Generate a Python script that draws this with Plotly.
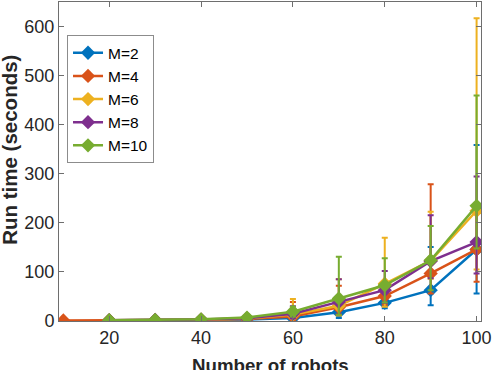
import plotly.graph_objects as go

robots = [20, 30, 40, 50, 60, 70, 80, 90, 100]
robots_m4 = [10, 20, 30, 40, 50, 60, 70, 80, 90, 100]

labels = ["M=2", "M=4", "M=6", "M=8", "M=10"]
colors = ["#0072BD", "#D95319", "#EDB120", "#7E2F8E", "#77AC30"]

m2_mean = [0.3, 0.5, 1.0, 2.0, 5, 17, 36, 62, 145]
m2_up = [0.2, 0.3, 0.5, 1.0, 3, 8, 10, 88, 213]
m2_dn = [0.2, 0.3, 0.5, 1.0, 3, 12, 11, 31, 90]

m4_mean = [0.1, 0.4, 0.7, 1.3, 3.0, 8, 27, 50, 96, 145]
m4_up = [0.1, 0.2, 0.4, 0.7, 1.5, 30, 44, 15, 182, 74]
m4_dn = [0.1, 0.2, 0.4, 0.7, 1.5, 5, 15, 18, 41, 66]

m6_mean = [0.5, 0.9, 1.8, 4.0, 12, 30, 75, 122, 224]
m6_up = [0.3, 0.4, 0.8, 2.0, 32, 54, 94, 100, 393]
m6_dn = [0.3, 0.4, 0.8, 2.0, 9, 20, 47, 37, 120]

m8_mean = [0.5, 1.0, 2.0, 4.5, 14, 38, 62, 121, 160]
m8_up = [0.3, 0.5, 1.0, 2.0, 15, 46, 39, 94, 134]
m8_dn = [0.3, 0.5, 1.0, 2.0, 10, 25, 26, 35, 64]

m10_mean = [0.6, 1.2, 2.5, 6.0, 18, 45, 72, 123, 234]
m10_up = [0.3, 0.6, 1.2, 3.0, 10, 85, 55, 70, 225]
m10_dn = [0.3, 0.6, 1.2, 3.0, 10, 33, 35, 61, 87]

series = [
    (robots, m2_mean, m2_up, m2_dn),
    (robots_m4, m4_mean, m4_up, m4_dn),
    (robots, m6_mean, m6_up, m6_dn),
    (robots, m8_mean, m8_up, m8_dn),
    (robots, m10_mean, m10_up, m10_dn),
]

x_ticks = [20, 40, 60, 80, 100]
y_ticks = [0, 100, 200, 300, 400, 500, 600]
x_title = "Number of robots"
y_title = "Run time (seconds)"

fig = go.Figure()
for (xs, mean, up, dn), name, c in zip(series, labels, colors):
    fig.add_trace(go.Scatter(
        x=xs, y=mean, name=name, mode="lines+markers",
        line=dict(color=c, width=2.5),
        marker=dict(symbol="diamond", size=11, color=c),
        error_y=dict(type="data", symmetric=False, array=up, arrayminus=dn,
                     color=c, thickness=2, width=3),
    ))

axis_common = dict(
    showgrid=False, zeroline=False, showline=True, mirror="ticks",
    linecolor="#6e6e6e", linewidth=1, ticks="inside", ticklen=5,
    tickcolor="#6e6e6e", automargin=False,
    tickfont=dict(family="Liberation Sans", size=18, color="#262626"),
)

fig.update_layout(
    width=492, height=370,
    margin=dict(l=59, r=11, t=2, b=49),
    paper_bgcolor="white", plot_bgcolor="white",
    xaxis=dict(range=[9.06, 100.96], tickvals=x_ticks, **axis_common),
    yaxis=dict(range=[-1, 650], tickvals=y_ticks, **axis_common),
    legend=dict(x=0.019, y=0.896, xanchor="left", yanchor="top",
                bordercolor="#8c8c8c", borderwidth=1, bgcolor="white",
                font=dict(family="Liberation Sans", size=15.5, color="#000000"),
                tracegroupgap=0),
    showlegend=True,
    annotations=[
        dict(text="<b>" + x_title + "</b>", xref="paper", yref="paper",
             x=0.501, y=-0.100, xanchor="center", yanchor="top", showarrow=False,
             font=dict(family="Liberation Sans", size=18.7, color="#262626")),
        dict(text="<b>" + y_title + "</b>", xref="paper", yref="paper",
             x=-0.119, y=0.536, xanchor="center", yanchor="middle", showarrow=False,
             textangle=-90,
             font=dict(family="Liberation Sans", size=20.5, color="#262626")),
    ],
)

fig.write_html("out.html", config={"displayModeBar": False},
               post_script="document.body.style.margin='0';")
